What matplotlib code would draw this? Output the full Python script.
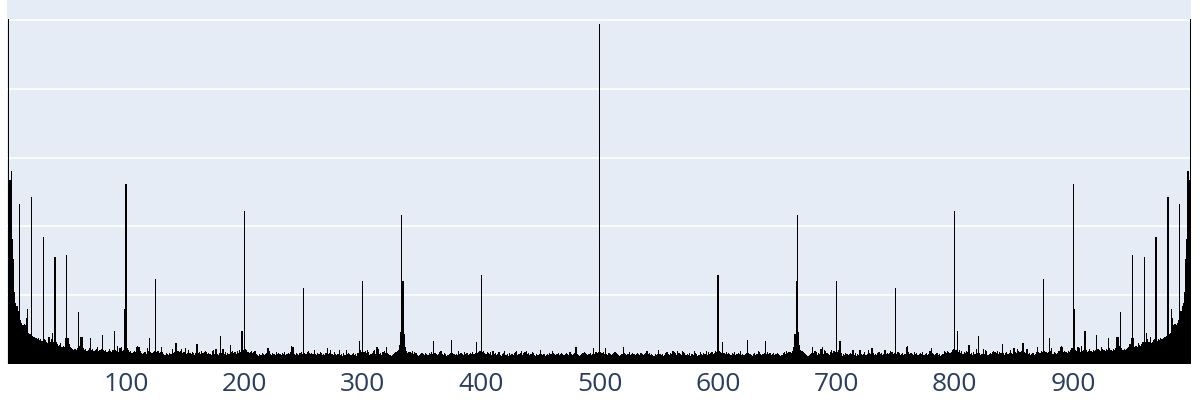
import numpy as np
import matplotlib.pyplot as plt

# ============================================================
# 1. DATA
# ============================================================
# Magnitude spectrum of a real 1000-point signal, bins 0..500 read off the
# picture (grid step = 100). Bins 501..999 are the mirror image of 1..499,
# as they are in the reference.
half_mag = [
    0, 501, 267, 281, 181, 152, 104, 88, 84, 77,
    233, 64, 59, 57, 58, 57, 67, 80, 45, 43,
    242, 41, 39, 39, 38, 36, 38, 35, 36, 33,
    185, 36, 35, 32, 30, 39, 32, 36, 45, 32,
    155, 32, 29, 26, 28, 30, 25, 26, 25, 38,
    158, 38, 29, 25, 23, 22, 20, 22, 20, 23,
    75, 26, 39, 39, 23, 20, 22, 19, 20, 23,
    38, 20, 22, 19, 20, 22, 25, 19, 20, 22,
    42, 20, 19, 20, 17, 19, 22, 19, 17, 20,
    48, 20, 19, 26, 17, 23, 25, 19, 20, 80,
    261, 23, 20, 17, 19, 16, 17, 19, 17, 25,
    26, 25, 19, 16, 14, 16, 17, 14, 23, 19,
    38, 17, 16, 17, 19, 123, 17, 19, 16, 17,
    25, 17, 14, 13, 16, 14, 13, 16, 14, 22,
    16, 17, 30, 30, 19, 17, 19, 22, 16, 17,
    23, 14, 16, 20, 16, 14, 17, 16, 13, 16,
    29, 16, 17, 14, 19, 16, 17, 19, 17, 14,
    16, 14, 13, 19, 20, 14, 22, 14, 13, 16,
    41, 16, 22, 14, 17, 13, 16, 14, 28, 17,
    19, 16, 17, 14, 19, 16, 20, 17, 48, 20,
    223, 22, 20, 17, 16, 17, 19, 16, 17, 19,
    14, 13, 12, 14, 13, 16, 14, 13, 14, 16,
    23, 19, 14, 13, 16, 14, 13, 17, 14, 16,
    14, 13, 16, 14, 17, 13, 14, 16, 14, 17,
    26, 25, 14, 13, 16, 14, 13, 16, 17, 14,
    110, 16, 14, 17, 19, 16, 14, 16, 14, 20,
    14, 13, 16, 14, 17, 16, 13, 14, 13, 16,
    23, 14, 16, 20, 14, 13, 17, 14, 13, 14,
    20, 13, 14, 12, 16, 13, 20, 14, 16, 14,
    13, 14, 16, 13, 14, 12, 16, 33, 20, 17,
    120, 17, 19, 16, 20, 17, 13, 14, 16, 19,
    20, 14, 25, 22, 14, 16, 13, 17, 19, 16,
    25, 16, 14, 13, 12, 13, 14, 16, 17, 19,
    20, 28, 46, 217, 120, 43, 25, 19, 16, 17,
    17, 16, 19, 14, 17, 16, 13, 12, 13, 14,
    16, 14, 13, 16, 14, 13, 16, 14, 17, 14,
    33, 16, 14, 13, 14, 17, 19, 14, 13, 16,
    14, 12, 13, 14, 16, 35, 16, 14, 13, 14,
    13, 19, 14, 16, 14, 13, 17, 14, 16, 13,
    14, 16, 14, 17, 14, 16, 32, 16, 17, 19,
    130, 17, 19, 16, 14, 17, 16, 14, 17, 13,
    19, 14, 16, 13, 14, 17, 13, 12, 14, 16,
    19, 13, 14, 12, 16, 13, 14, 13, 16, 17,
    19, 13, 14, 16, 19, 13, 16, 17, 19, 14,
    16, 13, 14, 17, 16, 13, 12, 14, 13, 14,
    20, 14, 13, 14, 12, 13, 14, 13, 16, 14,
    19, 16, 14, 13, 14, 16, 13, 14, 16, 14,
    13, 14, 16, 14, 13, 17, 14, 13, 14, 16,
    25, 14, 13, 12, 13, 14, 16, 17, 16, 14,
    13, 14, 16, 13, 14, 23, 14, 17, 16, 17,
    494,
]

x_ticks = [100, 200, 300, 400, 500, 600, 700, 800, 900]
x_tick_labels = [str(v) for v in x_ticks]
y_grid = [100, 200, 300, 400, 500]

half_mag = np.array(half_mag)
mag = np.concatenate([half_mag, half_mag[499:0:-1]])
bins = np.arange(len(mag))

# ============================================================
# 2. FIGURE
# ============================================================
plt.rcParams['font.family'] = ['Open Sans', 'DejaVu Sans']

fig = plt.figure(figsize=(12, 4), dpi=100)
ax = fig.add_axes([7 / 1200, 36 / 400, 1184 / 1200, 364 / 400])
ax.set_facecolor('#E5ECF6')

ax.bar(bins, mag, width=1.0, color='black', linewidth=0, antialiased=False)

ax.set_xlim(-0.5, len(mag) - 0.5)
ax.set_ylim(0, max(mag) * 1.056)

ax.set_yticks(y_grid)
ax.set_yticklabels([])
ax.yaxis.grid(True, color='white', linewidth=1.2)
ax.set_axisbelow(True)

ax.set_xticks(x_ticks)
ax.set_xticklabels(x_tick_labels)
ax.tick_params(axis='x', length=0, pad=6, labelsize=19, labelcolor='#2a3f5f')
ax.tick_params(axis='y', length=0)

for spine in ax.spines.values():
    spine.set_visible(False)

fig.savefig('out.png', dpi=100)
